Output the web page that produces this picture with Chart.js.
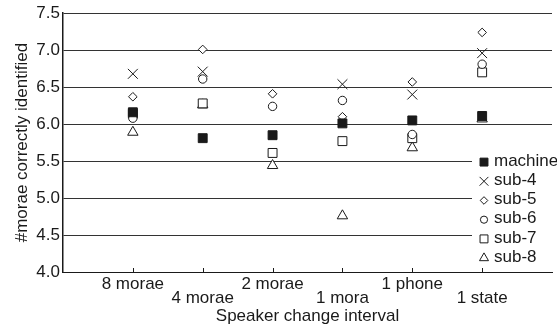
<!DOCTYPE html>
<html><head><meta charset="utf-8">
<script src="https://cdn.jsdelivr.net/npm/chart.js@4/dist/chart.umd.min.js"></script>
<style>html,body{margin:0;padding:0;background:#fff;overflow:hidden}#wrap{width:557px;height:325px;overflow:hidden;position:relative}canvas{display:block}</style>
</head><body><div id="wrap"><canvas id="c" width="560" height="325" style="width:560px;height:325px"></canvas></div>
<script>
const categories = ['8 morae','4 morae','2 morae','1 mora','1 phone','1 state'];
const seriesNames = ['machine','sub-4','sub-5','sub-6','sub-7','sub-8'];
const machine = [6.16, 5.81, 5.85, 6.01, 6.05, 6.11];
const sub4 = [6.68, 6.71, null, 6.54, 6.40, 6.96];
const sub5 = [6.37, 7.01, 6.41, 6.10, 6.57, 7.24];
const sub6 = [6.08, 6.61, 6.24, 6.32, 5.86, 6.81];
const sub7 = [6.14, 6.28, 5.61, 5.77, 5.81, 6.70];
const sub8 = [5.89, 6.26, 5.44, 4.76, 5.68, 6.07];
const yTicks = [4.0, 4.5, 5.0, 5.5, 6.0, 6.5, 7.0, 7.5];

const INK = '#1a1a1a';
const FONT = "'Liberation Sans', Arial, Helvetica, sans-serif";
const styles = [
  {pointStyle:'rect', radius:6.3, fill:INK, legendRadius:5.6},
  {pointStyle:'crossRot', radius:7, fill:'rgba(0,0,0,0)', legendRadius:6.2},
  {pointStyle:'rectRot', radius:4.3, fill:'#fff', legendRadius:3.8},
  {pointStyle:'circle', radius:4.2, fill:'#fff', legendRadius:3.6},
  {pointStyle:'rect', radius:6.3, fill:'#fff', legendRadius:5.6},
  {pointStyle:'triangle', radius:6, fill:'#fff', legendRadius:5.2}
];
const allSeries = [machine, sub4, sub5, sub6, sub7, sub8];

const datasets = allSeries.map((arr, k) => ({
  label: seriesNames[k],
  data: categories.map((c, i) => ({x: i + 1, y: arr[i]})),
  showLine: false,
  pointStyle: styles[k].pointStyle,
  pointRadius: styles[k].radius,
  pointHoverRadius: styles[k].radius,
  pointBorderWidth: 1,
  borderColor: INK,
  backgroundColor: styles[k].fill,
  pointBackgroundColor: styles[k].fill,
  pointBorderColor: INK
}));

const extras = {
  id: 'extras',
  afterDraw(chart) {
    const ctx = chart.ctx;
    const xs = chart.scales.x, ys = chart.scales.y;
    const ca = chart.chartArea;
    ctx.save();
    ctx.strokeStyle = INK; ctx.lineWidth = 1;
    categories.forEach((c, i) => {
      const px = Math.round(xs.getPixelForValue(i + 1)) + 0.5;
      ctx.beginPath(); ctx.moveTo(px, ca.bottom); ctx.lineTo(px, ca.bottom - 4); ctx.stroke();
    });
    const lx = ca.left + 409, top = ys.getPixelForValue(5.5) - 12;
    ctx.fillStyle = '#fff';
    ctx.fillRect(lx, top, ca.right - lx + 5, 118);
    ctx.font = '17px ' + FONT;
    ctx.textBaseline = 'middle';
    ctx.textAlign = 'left';
    seriesNames.forEach((n, k) => {
      const y = ys.getPixelForValue(5.5) + k * 19.2;
      ctx.fillStyle = styles[k].fill; ctx.strokeStyle = INK; ctx.lineWidth = 1;
      Chart.helpers.drawPoint(ctx, {pointStyle: styles[k].pointStyle, radius: styles[k].legendRadius, rotation: 0, borderWidth: 1}, lx + 12, y + 1);
      ctx.fillStyle = INK;
      ctx.fillText(n, lx + 22, y);
    });
    ctx.restore();
  }
};

new Chart(document.getElementById('c'), {
  type: 'scatter',
  data: {datasets},
  plugins: [extras],
  options: {
    responsive: false,
    animation: false,
    events: [],
    layout: {padding: {top: 13, right: 0, left: 0, bottom: 0}},
    plugins: {legend: {display: false}, tooltip: {enabled: false}},
    scales: {
      x: {
        type: 'linear', min: 0, max: 7,
        afterFit(s) { s.height = 53; },
        afterBuildTicks(s) { s.ticks = categories.map((c, i) => ({value: i + 1})); },
        grid: {display: false},
        border: {display: true, color: INK, width: 1},
        ticks: {
          autoSkip: false, maxRotation: 0, padding: -3, color: INK,
          font: {family: FONT, size: 17, lineHeight: 0.82},
          callback(v) { const i = Math.round(v) - 1; return i % 2 === 0 ? categories[i] : ['', categories[i]]; }
        },
        title: {display: true, text: 'Speaker change interval', color: INK, padding: {top: 0, bottom: -2}, font: {family: FONT, size: 17}}
      },
      y: {
        type: 'linear', min: 4.0, max: 7.5,
        afterFit(s) { s.width = 63; },
        afterBuildTicks(s) { s.ticks = yTicks.map(v => ({value: v})); },
        grid: {color: '#333', lineWidth: 1, drawTicks: false},
        border: {display: true, color: INK, width: 1.5},
        ticks: {padding: 3, color: INK, font: {family: FONT, size: 17}, callback: v => Number(v).toFixed(1)},
        title: {display: true, text: '#morae correctly identified', color: INK, padding: {top: 12, bottom: 0}, font: {family: FONT, size: 17}}
      }
    }
  }
});
</script>
</body></html>
